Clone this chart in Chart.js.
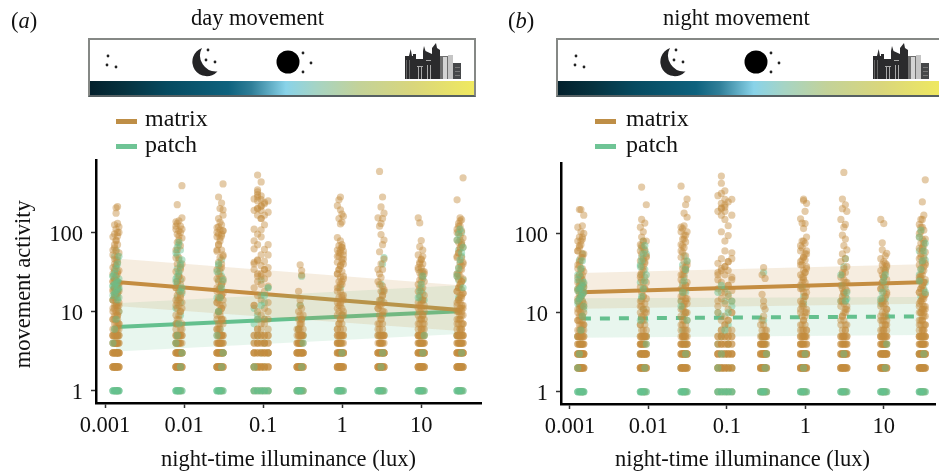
<!DOCTYPE html>
<html lang="en">
<head>
<meta charset="UTF-8" />
<title>Movement activity vs night-time illuminance</title>
<script src="https://cdn.jsdelivr.net/npm/chart.js"></script>
<style>
  html, body { margin: 0; padding: 0; background: #fff; }
  body { position: relative; width: 939px; height: 475px; overflow: hidden; font-family: "Liberation Serif", serif; color: #111; }
  canvas { position: absolute; top: 0; }
  .txt { position: absolute; white-space: nowrap; font-size: 22.5px; line-height: 24px; }
  .leg { font-size: 24px; }
  .swatch { position: absolute; width: 21px; height: 5px; }
  .strip { position: absolute; top: 38px; width: 384px; height: 55px; border: 2px solid #858885; border-bottom-color: #566063; }
  .strip .grad { position: absolute; left: 0; right: 0; bottom: 0; height: 14px;
    background: linear-gradient(90deg, #03202c 0%, #06323f 9%, #064a60 20%, #0e627e 36%, #2f7e98 42%, #89d3e9 51%, #a6d4c4 59%, #c3d299 70%, #d9d67c 84%, #f0e95f 100%); }
</style>
</head>
<body>
<canvas id="dayChart" width="490" height="475" style="left:0"></canvas>
<canvas id="nightChart" width="449" height="475" style="left:490px"></canvas>

<svg width="0" height="0" style="position:absolute">
  <symbol id="icons" viewBox="0 0 384 42" width="384" height="42">
    <g fill="#222">
      <circle cx="18" cy="16" r="1.4"/><circle cx="17" cy="25" r="1.4"/><circle cx="26" cy="27" r="1.4"/>
      <circle cx="118" cy="10" r="1.4"/><circle cx="116" cy="20" r="1.4"/><circle cx="125" cy="22" r="1.4"/>
      <circle cx="213" cy="13" r="1.4"/><circle cx="221" cy="23" r="1.4"/><circle cx="213" cy="32" r="1.4"/>
    </g>
    <path d="M112 8 A14.5 14.5 0 1 0 127.5 31.5 A16 16 0 0 1 112 8 Z" fill="#242426"/>
    <circle cx="198" cy="22" r="11.5" fill="#000"/>
    <!-- city -->
    <g fill="#2b2b2d">
      <polygon points="315,16 319,16 320.7,9 322,16 323,16 323,39 315,39"/>
      <rect x="323" y="14" width="3" height="25"/>
      <rect x="326" y="19" width="7" height="20"/>
      <polygon points="333,39 333,11 334,6 335.5,11 342,14 342,39"/>
      <polygon points="342,39 342,8 346,3 347,8 350,10 350,39"/>
      <rect x="363" y="23" width="8" height="16" fill="#46484a"/>
    </g>
    <rect x="350" y="16" width="8" height="23" fill="#6f6f6f"/>
    <rect x="353" y="17" width="4" height="22" fill="#d4d4d4"/>
    <rect x="358" y="15" width="5" height="24" fill="#c5c5c5"/>
    <g fill="#a8a8a8">
      <rect x="327" y="26" width="6" height="1"/><rect x="328" y="27" width="1" height="12"/><rect x="331" y="27" width="1" height="12"/>
      <rect x="336" y="20" width="5" height="1"/><rect x="337" y="25" width="1" height="14"/><rect x="340" y="25" width="1" height="14"/>
      <rect x="316" y="20" width="1" height="19" fill="#666"/><rect x="319" y="20" width="1" height="19" fill="#666"/>
      <rect x="365" y="27" width="5" height="1" fill="#777"/><rect x="365" y="31" width="5" height="1" fill="#777"/><rect x="365" y="35" width="5" height="1" fill="#777"/>
    </g>
  </symbol>
</svg>

<div class="txt" style="left:11px;top:9px">(<i>a</i>)</div>
<div class="txt" style="left:191px;top:6px">day movement</div>
<div class="strip" style="left:88px"><svg style="position:absolute;left:0;top:0" width="384" height="42"><use href="#icons"/></svg><div class="grad"></div></div>
<div class="swatch" style="left:116px;top:119px;background:#be8e46"></div>
<div class="txt leg" style="left:145px;top:106px">matrix</div>
<div class="swatch" style="left:116px;top:144px;background:#6fc495"></div>
<div class="txt leg" style="left:145px;top:132px">patch</div>

<div class="txt" style="left:508px;top:9px">(<i>b</i>)</div>
<div class="txt" style="left:663px;top:6px">night movement</div>
<div class="strip" style="left:556px"><svg style="position:absolute;left:0;top:0" width="384" height="42"><use href="#icons"/></svg><div class="grad"></div></div>
<div class="swatch" style="left:595px;top:119px;background:#be8e46"></div>
<div class="txt leg" style="left:626px;top:106px">matrix</div>
<div class="swatch" style="left:595px;top:144px;background:#6fc495"></div>
<div class="txt leg" style="left:626px;top:132px">patch</div>

<script>
const luxTicks = [0.001, 0.01, 0.1, 1, 10];
const activityTicks = [1, 10, 100];

// illuminance at each site, one row per column of dots, five jitter lanes across each column
const luxLanes = [
  [0.00126, 0.00132, 0.00138, 0.00144, 0.0015],
  [0.0079, 0.0082, 0.0086, 0.009, 0.0094],
  [0.0261, 0.0273, 0.0285, 0.0298, 0.0311],
  [0.0769, 0.0851, 0.0944, 0.104, 0.1156],
  [0.269, 0.281, 0.294, 0.307, 0.32],
  [0.87, 0.91, 0.95, 0.993, 1.036],
  [2.84, 2.97, 3.1, 3.24, 3.38],
  [9.16, 9.57, 10, 10.45, 10.9],
  [28.4, 29.7, 31, 32.4, 33.8]
];

// low counts that fill every lane of every column
const matrixFullRows = [2, 2, 3, 3, 4, 5];
const patchFullRows = [1];

// movement activity, per column then per lane
const matrixDay = [
  [[2,3,4,5,6,8,11,14,18,24,30,52,88],[2,3,4,5,7,9,12,16,20,26,34,46,64,96,125],[1,2,3,4,5,6,7,8,10,13,17,21,28,38,58,78,110,175,205],[1,2,3,4,5,6,8,9,11,15,19,23,32,42,70,100,130,212],[2,3,4,6,7,12,22,118]],
  [[2,3,4,5,6,9,14,20,32,60,110,136],[2,3,4,5,7,11,16,24,40,75,95,130,224],[1,2,3,4,5,8,12,18,28,48,90,105,140],[1,2,3,4,6,10,15,22,36,68,120],[2,3,5,7,13,26,85,153,390]],
  [[2,3,4,6,8,13,20,34,58,88,100],[2,3,4,5,7,10,15,24,42,70,95,118,150,280],[1,2,3,4,5,6,9,12,18,28,48,78,108,135,200],[1,2,3,4,5,8,11,16,22,36,60,90,125,235],[2,3,4,7,14,26,52,105,165,193,410]],
  [[1,2,3,4,12,20,34,42,62,78,110],[1,2,3,4,5,6,8,10,16,24,30,45,70,95,165,200,250,300,325,345,530],[1,2,3,5,6,9,14,22,28,38,52,88,108,150,190,215,260,290,435],[1,2,3,4,5,7,11,18,26,34,43,61,125,240],[1,2,3,4,6,8,13,21,30,52,70]],
  [[1,2,3,4],[1,2,3,4,5,6,8,10,18],[1,2,3,4,5,6,7,9,12,14,39],[1,2,3,4,5,7,8,11,29,33],[1,2,3,6]],
  [[2,3,4,5,6,9,13,20,30,42,60,86,218],[1,2,3,4,5,7,10,15,24,34,50,68,150,258],[1,2,3,4,6,8,12,18,27,38,55,78,128,193,280],[1,2,3,4,5,7,11,16,22,32,46,65,70,135,170],[2,3,5,9,14,26,40,52,58,160]],
  [[2,3,5,7,11,24,34,153],[1,2,3,4,6,9,14,22,30,57,120,590],[1,2,3,4,5,8,12,18,27,40,94,130,210],[1,2,3,4,6,7,10,16,21,34,70,150,280],[2,3,5,13,19,46,80,175]],
  [[2,3,4,5,6,9,13,22,34,52,153],[1,2,3,4,5,7,10,16,25,31,42,66,132],[1,2,3,4,5,6,8,11,18,28,36,46,79],[1,2,3,4,5,7,9,14,20,32,40,60],[2,3,4,6,8,12,24,30]],
  [[2,3,4,5,6,8,12,18,30,50,80,110,258],[1,2,3,4,5,7,10,14,20,26,36,55,75,100,130],[1,2,3,4,5,6,8,9,11,13,16,22,28,42,62,90,120,153],[1,2,3,4,5,6,7,10,12,15,19,24,34,48,70,105,145],[2,3,4,5,7,11,17,40,65,490]]
];
const patchDay = [
  [[1,14,21,28],[1,2,4,16,19,23,32,50],[1,3,12,15,18,21,25,38,60],[1,5,17,20,24,45],[1,10,19]],
  [[1,7,11,26],[1,3,5,15,22,35,52],[1,4,18,30,45,70],[1,2,9,13,25,40,60],[1,17]],
  [[1,2,15],[1,3,10,25,38],[1,4,6,20,32],[1,2,28,45],[1,3]],
  [[1,7,11],[1,2,5,9],[1,3,16,25],[1,2,4,8,13],[1,3,20]],
  [[1],[1,2,6],[1,4,12],[1,2,28],[1,5]],
  [[1],[1,3],[1,2,4,20],[1,9],[1]],
  [[1],[1,5],[1,2,14,22],[1,18,40],[1,3,48]],
  [[1],[1,4,15],[1,2,14,20,32],[1,3,17,26],[1,14]],
  [[1,5,30],[1,2,15,25,60],[1,3,20,40,80],[1,2,50,70,100],[1,25]]
];
// the crowded part of each column, counted along the lanes in turn
const matrixDayDense = [
  [2,2,2,3,3,3,4,4,4,5,5,6,6,7,7,8,8,9,9,10,10,11,12,12,13,14,15,16,17,18,19,20,21,22,23,24,26,28,30,33,36,40,45,50,55,60,70,80,90,100],
  [2,2,3,3,3,4,4,5,5,6,7,8,9,10,11,12,13,14,16,18,20,24,28,34,40,48,60,80,100,110,120],
  [2,2,2,3,3,3,4,4,5,5,6,6,7,8,8,9,10,10,11,12,13,14,15,16,17,18,19,20,22,24,26,30,35,40,50,60,70,85,95,105,115],
  [2,2,2,3,3,3,4,4,4,5,5,6,7,8,10,12,28,30,34,36,40,44,150,165,180,190,200,215,230,250,265,280],
  [2,2,2,3,3,3,4,4,5,5,6,6,7,8,9],
  [2,2,2,3,3,4,4,5,5,6,6,7,8,9,10,11,12,13,15,16,18,20,22,24,28,30,34,38,42,46,50,55,60,65],
  [2,2,2,3,3,3,4,4,5,5,6,7,8,9,10,11,12,14,16,18],
  [2,2,2,3,3,3,4,4,4,5,5,5,6,6,7,7,8,8,9,10,11,12,13,14,16,18,20,24,28,32,36,40,45,50],
  [2,2,2,3,3,3,4,4,4,5,5,5,6,6,7,7,8,8,9,9,10,10,11,11,12,13,14,15,16,17,18,20,22,24,26,28,30,34,38,42,48,55,65,75,85,100,120,140]
];
const patchDayDense = [
  [1,1,1,1,1,4,6,8,14,15,16,17,18,19,20,21,22,23,24,26,28,30,35,40,50],
  [1,1,1,2,3,4,5,7,18,20,24,28,32,38,45,55,65,75],
  [1,1,1,2,3,5,10,15,20,25,32,40],
  [1,1,1,1,1,2,8,12,16,20],
  [1,1,1,2,4],
  [1,1,1,3],
  [1,1,2,3],
  [1,1,1,3,5,15,18,22,28],
  [1,1,1,3,20,28,35,45,55,65,80,95,110]
];

// movement activity
const matrixNight = [
  [[2,3,4,5,6,8,11,15,20,28,40,60,80],[2,3,4,5,7,9,13,17,22,30,44,66,90,200],[1,2,3,4,5,6,7,10,12,16,19,24,34,50,72,105,200],[1,2,3,4,5,6,8,9,14,18,26,36,55,85,125],[2,3,4,6,7,12,21,170]],
  [[2,3,4,5,7,10,14,21,30,45,72,120],[2,3,4,5,6,9,12,18,26,38,55,90,150,385],[1,2,3,4,6,8,11,16,24,34,48,66,105],[1,2,3,4,5,7,13,20,28,42,62,135],[2,3,5,10,15,52,80,230]],
  [[2,3,4,6,9,14,20,30,50,72,105,395],[2,3,4,5,7,11,16,24,36,58,85,115],[1,2,3,4,5,6,8,12,18,28,44,66,95,125,180],[1,2,3,5,7,10,15,22,34,52,78,230],[2,3,4,8,13,40,160,272]],
  [[1,2,3,4,10,14,20,26,32,42],[1,2,3,4,5,6,8,18,24,36,48,105,170,205,240,320,430,530],[1,2,3,5,7,9,13,30,38,60,80,150,190,215,270,345],[1,2,3,4,5,6,8,11,16,22,34,44,125,94],[1,2,3,4,6,10,14,19,28,57,48]],
  [[1,2,3,4],[1,2,3,4,5,6,8,17,30],[1,2,3,4,5,7,9,12,14,37],[1,2,3,4,5,6,11,27],[1,3,5]],
  [[2,3,4,5,7,10,14,22,30,44,60,153],[1,2,3,4,5,6,9,13,20,28,40,66,135],[1,2,3,4,6,8,12,18,26,34,50,80,115,260,271],[1,2,3,5,7,10,16,24,32,46,75,133,190],[2,3,4,6,11,21,38,55,90,240]],
  [[2,3,5,7,12,22,44,150],[1,2,3,4,6,9,14,20,30,55,95,205,272],[1,2,3,4,5,8,13,18,26,36,70,120,590],[1,2,3,4,6,7,10,16,24,32,48,85,130,230],[2,3,5,11,19,38,62,190]],
  [[2,3,4,5,6,9,14,20,34,48,150],[1,2,3,4,5,7,10,15,24,30,40,62,76],[1,2,3,4,5,6,8,12,18,28,36,44,133],[1,2,3,4,5,7,9,13,22,32,42,52],[2,3,4,6,8,11,17,26,38,56]],
  [[2,3,4,5,6,8,12,18,26,40,65,90,130],[1,2,3,4,5,7,10,14,20,28,36,50,75,105,150],[1,2,3,4,5,6,8,9,11,13,16,22,30,44,60,85,120,250],[1,2,3,4,5,6,7,10,12,15,19,24,34,48,70,110,170],[2,3,4,5,7,11,17,40,58,475]]
];
const patchNight = [
  [[1,5,13,20,30],[1,2,3,12,18,24,46],[1,4,16,22,28,36],[1,2,14,19,25,55],[1,11,21]],
  [[1,3,24,40],[1,2,15,30,50,66],[1,4,11,20,45,80],[1,2,8,35,60],[1,5,55]],
  [[1,2,14],[1,3,6,22,40],[1,4,10,30,52],[1,2,4,18,36],[1,3]],
  [[1,4,10],[1,2,5,9],[1,3,14,20],[1,2,4,7,17],[1,2,12]],
  [[1],[1,2,5],[1,3,8,32],[1,2,5,4],[1,2]],
  [[1],[1,2,21],[1,3,13,16],[1,2],[1]],
  [[1,14],[1,3,22],[1,2,17,38],[1,14,48],[1,15]],
  [[1,13],[1,2,21,14],[1,3,4,28],[1,15,20,35],[1,9]],
  [[1,3,30,60],[1,2,16,26],[1,4,42,66],[1,2,20,52,80],[1,24,46]]
];
const matrixNightDense = [
  [2,2,2,3,3,3,4,4,4,5,5,6,6,7,7,8,8,9,9,10,10,11,12,12,13,14,15,16,17,18,19,20,21,22,23,24,26,28,30,33,36,40,45,50,55,60,70,80,90,100,120],
  [2,2,3,3,3,4,4,5,5,6,7,8,9,10,11,12,14,16,20,24,28,32,38,44,50,60,70,80],
  [2,2,3,3,4,4,5,5,6,6,7,8,9,10,10,11,12,13,14,15,16,18,20,22,24,26,30,34,38,44,60,70,85,95,105,120],
  [2,2,2,3,3,3,4,4,4,5,5,6,7,8,10,12,15,18,22,26,30,34,38,44,170,190,210,230,250,270,300],
  [2,2,3,3,3,4,4,5,5,6,7],
  [2,2,2,3,3,4,4,5,5,6,6,7,8,9,10,11,12,14,16,18,20,24,28,32,36,40,46,50,55,60,70,80],
  [2,2,3,3,4,4,5,5,6,7,8,9,10,11,12,14,16,18,20,24,28,32],
  [2,2,2,3,3,3,4,4,4,5,5,6,6,7,7,8,8,9,10,11,12,13,14,16,18,20,24,28,34,40],
  [2,2,2,3,3,3,4,4,4,5,5,5,6,6,7,7,8,8,9,9,10,10,11,11,12,13,14,15,16,17,18,20,22,24,26,28,30,34,38,42,48,55,65,75,85,100,120,150]
];
const patchNightDense = [
  [1,1,1,1,1,2,3,6,9,12,14,15,16,17,18,19,20,21,22,24,26,30,36,45],
  [1,1,1,2,4,8,16,20,25,30,38,45,55,70],
  [1,1,1,3,8,12,18,25,35,45],
  [1,1,1,1,1,2,3,6,10,14,18,22],
  [1,1,1,2,3],
  [1,1,2,3],
  [1,1,3,14,18,30],
  [1,1,1,2,4,15,18,25,30],
  [1,1,1,3,18,25,35,45,60,75,90,110]
];

const matrixDayLine = [[0.00138, 23.6], [31, 10.5]];
const patchDayLine = [[0.00138, 6.4], [31, 10.1]];
const matrixDayUpper = [[0.00138, 47], [31, 21.5]];
const matrixDayLower = [[0.00138, 11.8], [31, 5.7]];
const patchDayUpper = [[0.00138, 12.7], [31, 21.5]];
const patchDayLower = [[0.00138, 3.12], [31, 5.2]];

const matrixNightLine = [[0.00138, 18.1], [31, 24.1]];
const patchNightLine = [[0.00138, 8.4], [31, 8.95]];
const matrixNightUpper = [[0.00138, 31.6], [31, 40.9]];
const matrixNightLower = [[0.00138, 11.2], [31, 12.9]];
const patchNightUpper = [[0.00138, 15.2], [31, 15.7]];
const patchNightLower = [[0.00138, 4.8], [31, 5.2]];

const brown = '#c48d42';
const green = '#64c08f';
const brownDot = 'rgba(196,140,62,0.45)';
const greenDot = 'rgba(100,192,143,0.45)';
const xy = list => list.map(p => ({ x: p[0], y: p[1] }));
const dots = table => table.flatMap((lanes, c) => lanes.flatMap((ys, l) => ys.map(y => ({ x: luxLanes[c][l], y }))));
const denseDots = table => table.flatMap((ys, c) => ys.map((y, i) => ({ x: luxLanes[c][i % 5], y })));
const rowDots = rows => luxLanes.flatMap(lanes => lanes.flatMap(x => rows.map(y => ({ x, y }))));

function scatter(label, data, color) {
  return { type: 'scatter', label, data, backgroundColor: color, borderWidth: 0, pointRadius: 3.6, pointHoverRadius: 3.6 };
}
function band(label, upper, lower, color) {
  return [
    { type: 'line', label: label + ' upper', data: xy(upper), borderWidth: 0, pointRadius: 0, fill: false },
    { type: 'line', label: label + ' lower', data: xy(lower), borderWidth: 0, pointRadius: 0, fill: '-1', backgroundColor: color }
  ];
}
function trend(label, line, color, dash) {
  return { type: 'line', label, data: xy(line), borderColor: color, borderWidth: 4, pointRadius: 0, fill: false, borderDash: dash || [], borderCapStyle: 'butt' };
}
function axisFont(size) {
  return { family: '"Liberation Serif", serif', size };
}

// the y labels sit a little under their ticks in the reference
const lowerYLabels = {
  id: 'lowerYLabels',
  beforeDraw(chart) {
    if (chart.$lowered) return;
    chart.scales.y.getLabelItems().forEach(item => { item.options.translation[1] += 2.5; });
    chart.$lowered = true;
  }
};

function makeChart(id, o) {
  return new Chart(document.getElementById(id), {
    plugins: [lowerYLabels],
    data: {
      datasets: [
        scatter('patch', denseDots(o.patchDense).concat(rowDots(patchFullRows)), greenDot),
        scatter('matrix', rowDots(matrixFullRows).concat(denseDots(o.matrixDense), dots(o.matrix)), brownDot),
        scatter('patch', dots(o.patch), greenDot),
        ...band('matrix', o.mUp, o.mLow, 'rgba(196,140,62,0.16)'),
        ...band('patch', o.pUp, o.pLow, 'rgba(100,192,143,0.15)'),
        trend('matrix trend', o.mLine, brown),
        trend('patch trend', o.pLine, green, o.dash)
      ]
    },
    options: {
      responsive: false,
      animation: false,
      events: [],
      layout: { padding: { top: o.top, right: o.right, left: 0, bottom: 0 } },
      plugins: { legend: { display: false }, tooltip: { enabled: false } },
      scales: {
        x: {
          type: 'logarithmic',
          min: o.xMin, max: o.xMax,
          afterFit: s => { s.height = o.xHeight; },
          afterBuildTicks: s => { s.ticks = luxTicks.map(value => ({ value })); },
          grid: { display: true, drawOnChartArea: false, drawTicks: true, tickLength: 5, tickColor: '#333', tickWidth: 1.5 },
          border: { display: true, color: '#000', width: 2.5 },
          ticks: { color: '#111', font: axisFont(22.5), padding: 5, maxRotation: 0, autoSkip: false, callback: v => String(v) },
          title: { display: true, text: o.xTitle, color: '#111', font: axisFont(22.5), padding: { top: 0, bottom: 1 } }
        },
        y: {
          type: 'logarithmic',
          min: o.yMin, max: o.yMax,
          afterFit: s => { s.width = o.left; },
          afterBuildTicks: s => { s.ticks = activityTicks.map(value => ({ value })); },
          grid: { display: true, drawOnChartArea: false, drawTicks: true, tickLength: 5, tickColor: '#333', tickWidth: 1.5 },
          border: { display: true, color: '#000', width: 2.5 },
          ticks: { color: '#111', font: axisFont(22.5), padding: 8, autoSkip: false, callback: v => String(v) },
          title: { display: o.yTitle !== '', text: o.yTitle, color: '#111', font: axisFont(22.5), padding: { top: 11, bottom: 0 } }
        }
      }
    }
  });
}

makeChart('dayChart', {
  matrix: matrixDay, patch: patchDay, matrixDense: matrixDayDense, patchDense: patchDayDense,
  mUp: matrixDayUpper, mLow: matrixDayLower, pUp: patchDayUpper, pLow: patchDayLower,
  mLine: matrixDayLine, pLine: patchDayLine,
  top: 160, right: 9, left: 96, xHeight: 72,
  xMin: 0.000769, xMax: 57, yMin: 0.727, yMax: 822,
  xTitle: 'night-time illuminance (lux)', yTitle: 'movement activity '
});
makeChart('nightChart', {
  matrix: matrixNight, patch: patchNight, matrixDense: matrixNightDense, patchDense: patchNightDense,
  mUp: matrixNightUpper, mLow: matrixNightLower, pUp: patchNightUpper, pLow: patchNightLower,
  mLine: matrixNightLine, pLine: patchNightLine, dash: [10, 9],
  top: 163, right: 1, left: 71, xHeight: 71,
  xMin: 0.000769, xMax: 45.5, yMin: 0.743, yMax: 775,
  xTitle: 'night-time illuminance (lux)  ', yTitle: ''
});
</script>
</body>
</html>
